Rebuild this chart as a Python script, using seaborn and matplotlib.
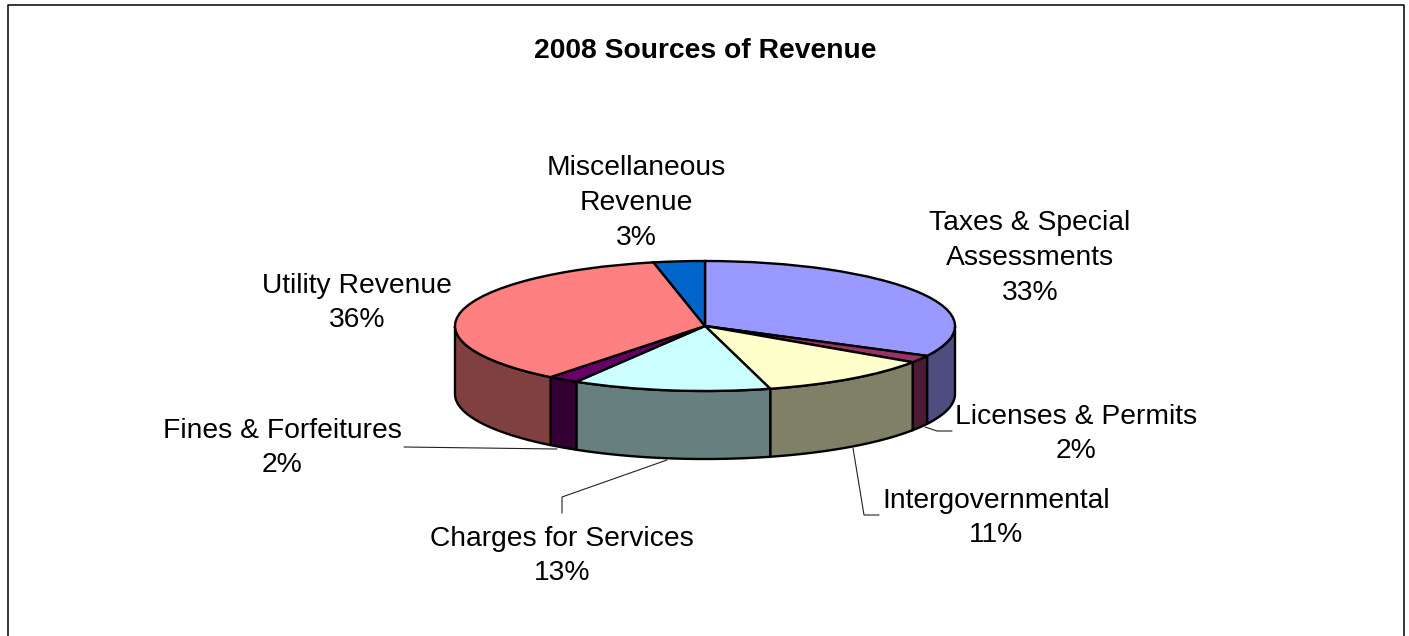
import numpy as np
import seaborn as sns
import matplotlib.pyplot as plt

# share of revenue (the labels show them rounded)
categories = ["Taxes & Special\nAssessments", "Licenses & Permits", "Intergovernmental",
              "Charges for Services", "Fines & Forfeitures", "Utility Revenue",
              "Miscellaneous\nRevenue"]
values = [32.6, 1.8, 11.4, 12.8, 2.0, 36.1, 3.3]
percent_labels = ["33%", "2%", "11%", "13%", "2%", "36%", "3%"]
top_colors = ["#9999FF", "#993366", "#FFFFCC", "#CCFFFF", "#660066", "#FF8080", "#0066CC"]
side_colors = ["#4D4D80", "#4D1A33", "#808066", "#668080", "#330033", "#804040", "#003366"]

title = "2008 Sources of Revenue"

W, H = 1409, 636
CX, CY = 705, 326    # pie centre, pixels
RX, RY = 250, 65     # top ellipse
DEPTH = 68

label_pos = [(1030, 258), (1076, 434), (996, 518), (562, 556), (282, 448), (357, 303), (636, 203)]
leaders = {
    1: [(925, 427), (937, 431), (952, 431)],
    2: [(853, 448), (864, 515), (879, 515)],
    3: [(667, 460), (562, 497), (562, 513)],
    4: [(404, 447), (557, 449)],
}

sns.set_style("white")
plt.rcParams['font.family'] = ['Liberation Sans', 'DejaVu Sans']

fig = plt.figure(figsize=(W / 100, H / 100), dpi=100)
ax = fig.add_axes([0, 0, 1, 1])
ax.patch.set_alpha(0)


def set_limits():
    # one data unit = the top ellipse radius, so the pie squashes into it
    ax.set_xlim(-CX / RX, (W - CX) / RX)
    ax.set_ylim((CY - H) / RY, CY / RY)
    ax.set_aspect('auto')


def to_data(p):
    return (p[0] - CX) / RX, (CY - p[1]) / RY


# side wall, only the front half of the rim is visible
edges = np.concatenate([[0], np.cumsum(values)]) / np.sum(values) * 360
depth = DEPTH / RY
for i, color in enumerate(sns.color_palette(side_colors)):
    a = max(edges[i], 90)
    b = min(edges[i + 1], 270)
    if b <= a:
        continue
    t = np.radians(np.linspace(a, b, 80))
    x = np.sin(t)
    y = np.cos(t)
    ax.fill(np.r_[x, x[::-1]], np.r_[y, y[::-1] - depth], facecolor=color,
            edgecolor="black", linewidth=1.7, joinstyle='round', zorder=2)

ax.pie(values, colors=sns.color_palette(top_colors), startangle=90, counterclock=False,
       radius=1, wedgeprops=dict(edgecolor="black", linewidth=1.7, zorder=3))
set_limits()

for i, pts in leaders.items():
    xy = np.array([to_data(p) for p in pts])
    ax.plot(xy[:, 0], xy[:, 1], color="#222222", linewidth=0.8, zorder=1)

ax.axis('off')

for cat, pct, (px, py) in zip(categories, percent_labels, label_pos):
    fig.text(px / W, 1 - py / H, cat + "\n" + pct, ha='center', va='center',
             fontsize=20.3, color="black", linespacing=1.44)

fig.text(705 / W, 1 - 51 / H, title, ha='center', va='center', fontsize=20.3,
         fontweight='bold', color="black")

# chart frame, open at the bottom
fx = [7.5 / W, 7.5 / W, 1403.5 / W, 1403.5 / W]
fy = [0, 1 - 4.5 / H, 1 - 4.5 / H, 0]
fig.add_artist(plt.Line2D(fx, fy, color="black", linewidth=1.1, transform=fig.transFigure))

fig.savefig("out.png", dpi=100)
